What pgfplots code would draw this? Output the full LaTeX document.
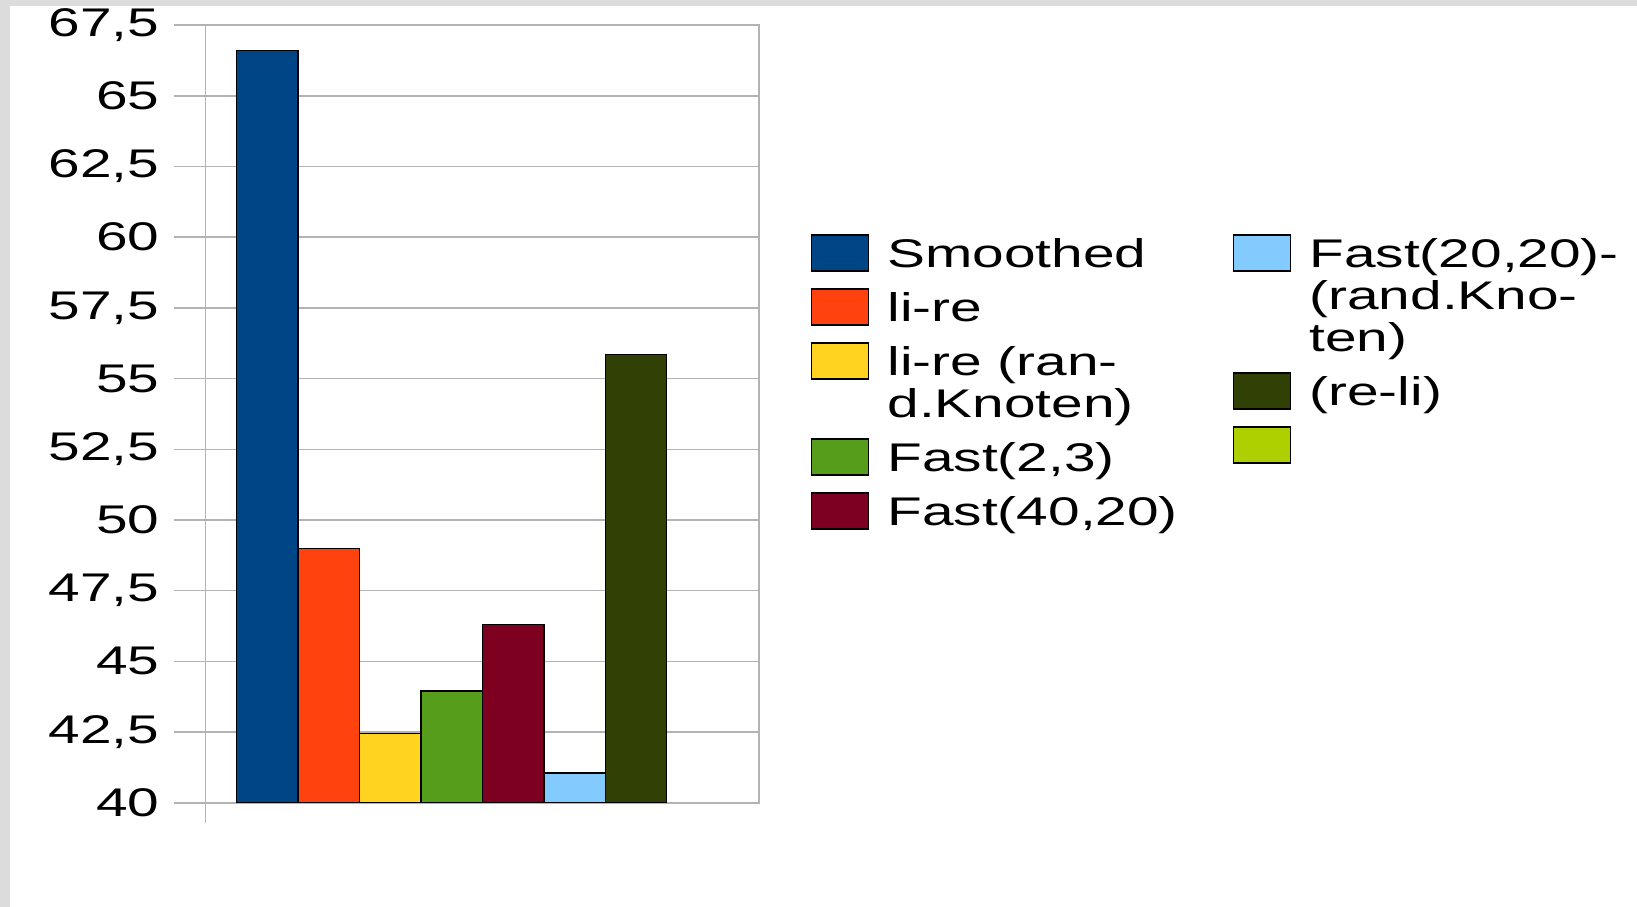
\documentclass[border=0pt]{standalone}
\usepackage{fontspec}
\setmainfont{Liberation Sans}[FakeStretch=1.42]
\usepackage{pgfplots}
\pgfplotsset{compat=1.18}
\definecolor{c1}{HTML}{004586}
\definecolor{c2}{HTML}{FF420E}
\definecolor{c3}{HTML}{FFD320}
\definecolor{c4}{HTML}{579D1C}
\definecolor{c5}{HTML}{7E0021}
\definecolor{c6}{HTML}{83CAFF}
\definecolor{c7}{HTML}{314004}
\definecolor{c8}{HTML}{AECF00}
\definecolor{gridgray}{HTML}{B3B3B3}
\definecolor{bggray}{HTML}{DCDCDC}
\newcommand\lone[1]{#1\rule[-3pt]{0pt}{1pt}}
\pgfplotsset{
  mybar/.style={ybar, bar width=1, bar shift=0pt, fill=#1, draw=black, line width=0.45pt,
    legend image code/.code={\draw[fill=#1,draw=black,line width=0.45pt] (0pt,-1.05pt) rectangle (17pt,9.65pt);}},
  mylegend/.style={legend style={at={(#1,0.7314)}, anchor=north west, draw=none, fill=none,
    inner sep=0pt, outer sep=0pt, row sep=3.2pt, column sep=5.5pt,
    font=\fontsize{12}{12.6}\selectfont,
    nodes={anchor=base west, inner sep=0pt, outer sep=0pt, text height=10pt, text depth={}}}},
}
\begin{document}
\fontsize{12}{12.6}\selectfont
\begin{tikzpicture}
\useasboundingbox (0,0) rectangle (491.1pt,-272.1pt);
\fill[bggray] (0,0) rectangle (491.1pt,-272.1pt);
\fill[white] (3pt,-1.8pt) rectangle (491.1pt,-272.1pt);
\begin{axis}[
  at={(61.7pt,-240.84pt)}, anchor=south west,
  scale only axis, width=166pt, height=233.3pt,
  xmin=-1, xmax=8, ymin=40, ymax=67.5,
  ytick={40,42.5,...,67.5},
  xtick=\empty,
  ymajorgrids, grid style={gridgray, line width=0.45pt},
  axis line style={gridgray, line width=0.45pt},
  tick style={gridgray, line width=0.45pt},
  tick align=outside, major tick length=9.6pt,
  tick pos=left,
  extra x ticks={-1}, extra x tick labels={},
  extra x tick style={major tick length=6pt, tick align=outside, grid=none},
  yticklabel style={font=\fontsize{12}{12.6}\selectfont, anchor=east, inner sep=0pt, xshift=-4.1pt},
  /pgf/number format/use comma,
  /pgf/number format/assume math mode=true,
  mylegend=1.094,
]
\addplot[mybar=c1] coordinates {(0,66.6)};
\addlegendentry{\lone{Smoothed}}
\addplot[mybar=c2] coordinates {(1,49.0)};
\addlegendentry{\lone{li-re}}
\addplot[mybar=c3] coordinates {(2,42.45)};
\addlegendentry{\vtop{\hbox{li-re (ran-}\hbox{\lone{d.Knoten)}}}}
\addplot[mybar=c4] coordinates {(3,43.95)};
\addlegendentry{\lone{Fast(2,3)}}
\addplot[mybar=c5] coordinates {(4,46.3)};
\addlegendentry{\lone{Fast(40,20)}}
\addplot[mybar=c6, forget plot] coordinates {(5,41.05)};
\addplot[mybar=c7, forget plot] coordinates {(6,55.85)};
\end{axis}
\begin{axis}[
  at={(61.7pt,-240.84pt)}, anchor=south west,
  scale only axis, width=166pt, height=233.3pt,
  xmin=0, xmax=1, ymin=0, ymax=1, hide axis,
  mylegend=1.8566,
]
\addlegendimage{mybar=c6}
\addlegendentry{\vtop{\hbox{Fast(20,20)-}\hbox{(rand.Kno-}\hbox{\lone{ten)}}}}
\addlegendimage{mybar=c7}
\addlegendentry{\lone{(re-li)}}
\addlegendimage{mybar=c8}
\addlegendentry{\lone{}}
\end{axis}
\end{tikzpicture}
\end{document}
